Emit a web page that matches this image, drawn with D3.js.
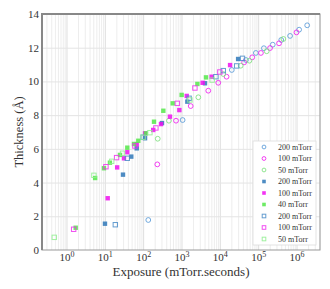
<!DOCTYPE html>
<html>
<head>
<meta charset="utf-8">
<script src="https://cdn.jsdelivr.net/npm/d3@7"></script>
<style>
  body { margin: 0; background: #fff; }
  text { font-family: "Liberation Serif", "DejaVu Serif", serif; fill: #333; }
</style>
</head>
<body>
<svg id="chart" width="330" height="289"></svg>
<script>
// exposure (mTorr.s) and thickness (Å)
const circ200 = [[136,1.78],[1070,7.71],[20500,10.68],[48000,11.27],[87000,11.69],[141000,11.97],[240000,12.18],[400000,12.46],[680000,12.70],[1170000,13.07],[1900000,13.33]];
const circ100 = [[234,5.08],[720,7.67],[1740,8.54],[5000,9.45],[9100,9.92],[15000,10.28],[43000,11.13],[70000,11.43],[118000,11.69],[204000,11.98],[350000,12.26],[1000000,12.91]];
const circ50  = [[240,6.6],[470,7.67],[2750,9.06],[12300,10.44],[35000,10.93],[59000,11.23],[167000,11.79],[455000,12.52]];
const fill200 = [[10.1,1.56],[29.8,4.47],[49,5.54],[68,6.03],[112,6.63],[310,7.53],[1420,8.8],[4100,9.89],[30000,11.33]];
const fill100 = [[11.9,3.07],[21,4.9],[31.6,5.44],[38.6,5.8],[68,6.27],[112,6.92],[183,7.12],[292,7.47],[500,7.91],[880,8.3],[1370,9.14],[3560,9.92],[6100,10.28],[18500,10.97]];
const fill40  = [[1.74,1.32],[5.6,4.27],[9.5,4.85],[13.6,5.18],[24.9,5.64],[38.6,6.07],[57.7,6.29],[74.7,6.48],[118,6.92],[192,7.61],[336,8.26],[590,8.7],[1010,9.2],[2600,9.85],[4350,10.24]];
const open200 = [[18.8,1.5],[38.6,5.44],[100,6.69],[1580,9.0],[7900,10.28],[12300,10.64],[27500,10.92],[39000,11.37]];
const open100 = [[1.54,1.23],[10.7,4.94],[20.3,5.48],[61,6.17],[215,7.24],[780,8.7],[2240,9.61],[10000,10.56]];
const open50  = [[0.48,0.75],[5.2,4.43],[15.1,5.26],[29,5.74],[100,6.69],[150,6.96],[1660,8.9],[6300,10.08]];

const seriesNames = ['200 mTorr','100 mTorr','50 mTorr','200 mTorr','100 mTorr','40 mTorr','200 mTorr','100 mTorr','50 mTorr'];
const seriesData = [circ200, circ100, circ50, fill200, fill100, fill40, open200, open100, open50];
const seriesShape = ['circle','circle','circle','filled','filled','filled','square','square','square'];
const seriesColor = ['#5a9bd8','#f020f0','#7ee07e','#2f78b8','#f010f0','#55e84a','#4a8cc8','#ee30ee','#90ee90'];

const xTicks = [1, 10, 100, 1000, 10000, 100000, 1000000];
const yTicks = [0, 2, 4, 6, 8, 10, 12, 14];

const svg = d3.select('#chart');
const mL = 42, mR = 320, mT = 14, mB = 250;

const x = d3.scaleLog().domain([0.23, 4.1e6]).range([mL, mR]);
const y = d3.scaleLinear().domain([0, 14]).range([mB, mT]);

// minor grid
var minor = [];
for (var e = -1; e <= 6; e++) {
  for (var k = 2; k <= 9; k++) {
    var v = k * Math.pow(10, e);
    if (v > 0.23 && v < 4.1e6) minor.push(v);
  }
}
svg.append('g')
  .attr('transform', 'translate(0,' + mB + ')')
  .call(d3.axisBottom(x).tickValues(minor).tickSize(-(mB - mT)).tickFormat(''))
  .call(g => g.select('.domain').remove())
  .selectAll('line').attr('stroke', '#e9e9e9').attr('stroke-width', 0.8);

svg.append('g')
  .attr('transform', 'translate(0,' + mB + ')')
  .call(d3.axisBottom(x).tickValues(xTicks).tickSize(-(mB - mT)).tickFormat(''))
  .call(g => g.select('.domain').remove())
  .selectAll('line').attr('stroke', '#dedede');

svg.append('g')
  .attr('transform', 'translate(' + mL + ',0)')
  .call(d3.axisLeft(y).tickValues(yTicks.slice(1, -1)).tickSize(-(mR - mL)).tickFormat(''))
  .call(g => g.select('.domain').remove())
  .selectAll('line').attr('stroke', '#e4e4e4');

// frame
svg.append('rect')
  .attr('x', mL).attr('y', mT)
  .attr('width', mR - mL).attr('height', mB - mT)
  .attr('fill', 'none').attr('stroke', '#999').attr('stroke-width', 1);
svg.append('path')
  .attr('d', 'M' + mL + ',' + mB + 'V' + mT + 'H' + mR)
  .attr('fill', 'none').attr('stroke', '#888').attr('stroke-width', 2);

// tick labels
var xl = svg.append('g').attr('transform', 'translate(0,' + mB + ')')
  .call(d3.axisBottom(x).tickValues(xTicks).tickSize(0).tickFormat(''));
xl.select('.domain').remove();
xl.selectAll('.tick').each(function(d) {
  var t = d3.select(this).append('text')
    .attr('y', 11).attr('text-anchor', 'middle')
    .style('font-size', '11px').attr('fill', '#333');
  t.append('tspan').text('10');
  t.append('tspan').text(Math.round(Math.log10(d))).attr('dy', -4).style('font-size', '8px');
});

var yl = svg.append('g').attr('transform', 'translate(' + mL + ',0)')
  .call(d3.axisLeft(y).tickValues(yTicks).tickSize(0).tickPadding(3));
yl.select('.domain').remove();
yl.selectAll('text')
  .style('font-size', '11px')
  .style('font-family', '"Liberation Serif", serif')
  .attr('fill', '#333');

// axis titles
svg.append('text')
  .attr('x', 181).attr('y', 276)
  .attr('text-anchor', 'middle')
  .style('font-size', '13px')
  .text('Exposure (mTorr.seconds)');
svg.append('text')
  .attr('transform', 'translate(23,' + 132 + ') rotate(-90)')
  .attr('text-anchor', 'middle')
  .style('font-size', '12.5px')
  .text('Thickness (Å)');

// markers
function drawMarker(g, shape, color, cx, cy, big) {
  var s = big ? 4.4 : 3.6;
  if (shape === 'circle') {
    g.append('circle').attr('cx', cx).attr('cy', cy).attr('r', big ? 2.4 : 1.9)
      .attr('fill', 'none').attr('stroke', color).attr('stroke-width', 1).attr('opacity', 0.85);
  } else if (shape === 'filled') {
    g.append('rect').attr('x', cx - s / 2).attr('y', cy - s / 2).attr('width', s).attr('height', s)
      .attr('fill', color).attr('opacity', 0.85);
  } else {
    g.append('rect').attr('x', cx - s / 2).attr('y', cy - s / 2).attr('width', s).attr('height', s)
      .attr('fill', 'none').attr('stroke', color).attr('stroke-width', 1).attr('opacity', 0.85);
  }
}

var plot = svg.append('g');
seriesData.forEach(function(data, i) {
  data.forEach(function(d) {
    drawMarker(plot, seriesShape[i], seriesColor[i], x(d[0]), y(d[1]), true);
  });
});

// legend
var lg = svg.append('g');
lg.append('rect')
  .attr('x', 253).attr('y', 141).attr('width', 63).attr('height', 104)
  .attr('fill', '#fff').attr('stroke', '#ddd').attr('stroke-width', 0.8);
seriesNames.forEach(function(name, i) {
  var ly = 147 + i * 11.5;
  drawMarker(lg, seriesShape[i], seriesColor[i], 264, ly, false);
  lg.append('text').attr('x', 278).attr('y', ly + 2.8)
    .style('font-size', '8px').text(name);
});
</script>
</body>
</html>
